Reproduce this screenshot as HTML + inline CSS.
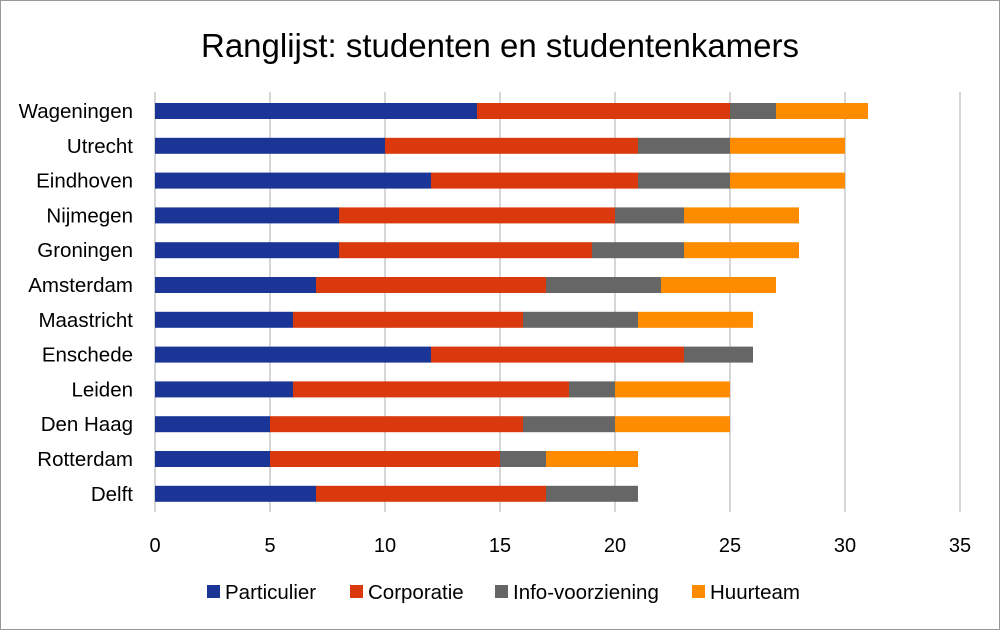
<!DOCTYPE html>
<html><head><meta charset="utf-8"><style>
html,body{margin:0;padding:0;background:#fff}
svg{display:block}
text{font-family:"Liberation Sans",sans-serif;fill:#000}
</style></head><body>
<svg width="1000" height="630" viewBox="0 0 1000 630">
<rect x="0.5" y="0.5" width="999" height="629" fill="#fff" stroke="#999" stroke-width="1"/>
<text x="500" y="57" font-size="33" text-anchor="middle">Ranglijst: studenten en studentenkamers</text>
<g stroke="#c8c8c8" stroke-width="1.5">
<line x1="155" y1="92" x2="155" y2="512"/>
<line x1="270" y1="92" x2="270" y2="512"/>
<line x1="385" y1="92" x2="385" y2="512"/>
<line x1="500" y1="92" x2="500" y2="512"/>
<line x1="615" y1="92" x2="615" y2="512"/>
<line x1="730" y1="92" x2="730" y2="512"/>
<line x1="845" y1="92" x2="845" y2="512"/>
<line x1="960" y1="92" x2="960" y2="512"/>
</g>
<g font-size="20.5" text-anchor="end">
<text x="133" y="118">Wageningen</text>
<text x="133" y="152.8">Utrecht</text>
<text x="133" y="187.6">Eindhoven</text>
<text x="133" y="222.4">Nijmegen</text>
<text x="133" y="257.2">Groningen</text>
<text x="133" y="292">Amsterdam</text>
<text x="133" y="326.8">Maastricht</text>
<text x="133" y="361.6">Enschede</text>
<text x="133" y="396.4">Leiden</text>
<text x="133" y="431.2">Den Haag</text>
<text x="133" y="466">Rotterdam</text>
<text x="133" y="500.8">Delft</text>
</g>
<g>
<rect x="155" y="103" width="322" height="16" fill="#1b3597"/><rect x="477" y="103" width="253" height="16" fill="#d9390c"/><rect x="730" y="103" width="46" height="16" fill="#666"/><rect x="776" y="103" width="92" height="16" fill="#ff8c00"/>
<rect x="155" y="137.8" width="230" height="16" fill="#1b3597"/><rect x="385" y="137.8" width="253" height="16" fill="#d9390c"/><rect x="638" y="137.8" width="92" height="16" fill="#666"/><rect x="730" y="137.8" width="115" height="16" fill="#ff8c00"/>
<rect x="155" y="172.6" width="276" height="16" fill="#1b3597"/><rect x="431" y="172.6" width="207" height="16" fill="#d9390c"/><rect x="638" y="172.6" width="92" height="16" fill="#666"/><rect x="730" y="172.6" width="115" height="16" fill="#ff8c00"/>
<rect x="155" y="207.4" width="184" height="16" fill="#1b3597"/><rect x="339" y="207.4" width="276" height="16" fill="#d9390c"/><rect x="615" y="207.4" width="69" height="16" fill="#666"/><rect x="684" y="207.4" width="115" height="16" fill="#ff8c00"/>
<rect x="155" y="242.2" width="184" height="16" fill="#1b3597"/><rect x="339" y="242.2" width="253" height="16" fill="#d9390c"/><rect x="592" y="242.2" width="92" height="16" fill="#666"/><rect x="684" y="242.2" width="115" height="16" fill="#ff8c00"/>
<rect x="155" y="277" width="161" height="16" fill="#1b3597"/><rect x="316" y="277" width="230" height="16" fill="#d9390c"/><rect x="546" y="277" width="115" height="16" fill="#666"/><rect x="661" y="277" width="115" height="16" fill="#ff8c00"/>
<rect x="155" y="311.8" width="138" height="16" fill="#1b3597"/><rect x="293" y="311.8" width="230" height="16" fill="#d9390c"/><rect x="523" y="311.8" width="115" height="16" fill="#666"/><rect x="638" y="311.8" width="115" height="16" fill="#ff8c00"/>
<rect x="155" y="346.6" width="276" height="16" fill="#1b3597"/><rect x="431" y="346.6" width="253" height="16" fill="#d9390c"/><rect x="684" y="346.6" width="69" height="16" fill="#666"/>
<rect x="155" y="381.4" width="138" height="16" fill="#1b3597"/><rect x="293" y="381.4" width="276" height="16" fill="#d9390c"/><rect x="569" y="381.4" width="46" height="16" fill="#666"/><rect x="615" y="381.4" width="115" height="16" fill="#ff8c00"/>
<rect x="155" y="416.2" width="115" height="16" fill="#1b3597"/><rect x="270" y="416.2" width="253" height="16" fill="#d9390c"/><rect x="523" y="416.2" width="92" height="16" fill="#666"/><rect x="615" y="416.2" width="115" height="16" fill="#ff8c00"/>
<rect x="155" y="451" width="115" height="16" fill="#1b3597"/><rect x="270" y="451" width="230" height="16" fill="#d9390c"/><rect x="500" y="451" width="46" height="16" fill="#666"/><rect x="546" y="451" width="92" height="16" fill="#ff8c00"/>
<rect x="155" y="485.8" width="161" height="16" fill="#1b3597"/><rect x="316" y="485.8" width="230" height="16" fill="#d9390c"/><rect x="546" y="485.8" width="92" height="16" fill="#666"/>
</g>
<g font-size="20" text-anchor="middle">
<text x="155" y="552">0</text><text x="270" y="552">5</text><text x="385" y="552">10</text><text x="500" y="552">15</text><text x="615" y="552">20</text><text x="730" y="552">25</text><text x="845" y="552">30</text><text x="960" y="552">35</text>
</g>
<g font-size="20.5">
<rect x="207" y="585" width="13" height="13" fill="#1b3597"/><text x="225" y="599">Particulier</text>
<rect x="350" y="585" width="13" height="13" fill="#d9390c"/><text x="368" y="599">Corporatie</text>
<rect x="495" y="585" width="13" height="13" fill="#666"/><text x="513" y="599">Info-voorziening</text>
<rect x="692" y="585" width="13" height="13" fill="#ff8c00"/><text x="710" y="599">Huurteam</text>
</g>
</svg>
</body></html>
